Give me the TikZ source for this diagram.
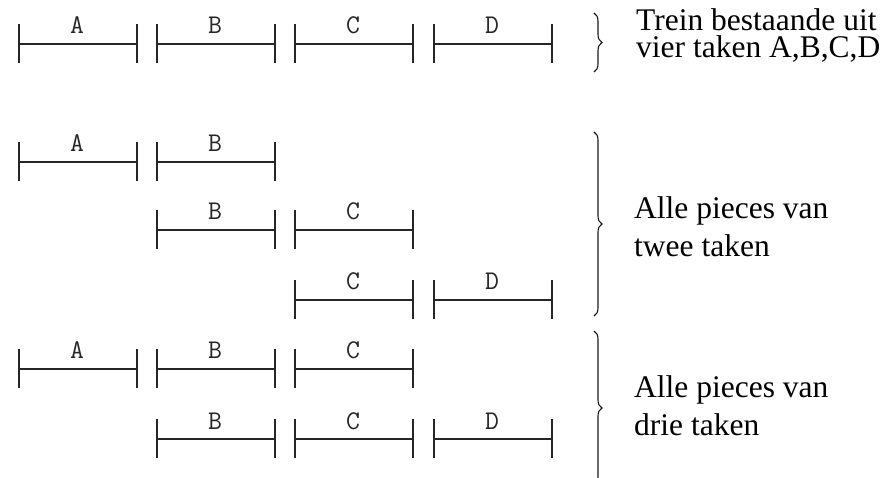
\documentclass[tikz,border=0pt]{standalone}
\usepackage{fontspec}
\usetikzlibrary{decorations.pathreplacing}
\newfontfamily\txfont{Liberation Serif}
\begin{document}
\begin{tikzpicture}[x=1pt,y=-1pt,
  seg/.style={line width=1.6pt, draw=black!85},
  lbl/.style={font=\ttfamily\fontsize{27}{27}\selectfont, anchor=base, inner sep=0pt, text=black!85},
  txt/.style={font=\txfont\fontsize{31.5}{31.5}\selectfont, anchor=base west, inner sep=0pt, text height=20pt, text depth=5pt},
  br/.style={decorate, decoration={brace, amplitude=8pt}, line width=1.1pt, draw=black!90}]
\fill[white] (0,0) rectangle (889,478);
\useasboundingbox (0,0) rectangle (889,478);
\def\xA{19}\def\xB{157}\def\xC{295}\def\xD{434}
\foreach \y/\l in {44/A,44/B,44/C,44/D,162/A,162/B,230/B,230/C,300/C,300/D,369/A,369/B,369/C,439/B,439/C,439/D}{
  \pgfmathsetmacro{\x}{\csname x\l\endcsname}
  \coordinate (s-\y-\l) at (\x,\y);
  \coordinate (e-\y-\l) at (\x+118,\y);
  \draw[seg] ([yshift=20pt]s-\y-\l) -- ([yshift=-19pt]s-\y-\l);
  \draw[seg] (s-\y-\l) -- (e-\y-\l);
  \draw[seg] ([yshift=20pt]e-\y-\l) -- ([yshift=-19pt]e-\y-\l);
  \node[lbl] (l-\y-\l) at (\x+58,\y-10) {\l};
}
\coordinate (b1t) at (594,13);  \coordinate (b1b) at (594,72);
\coordinate (b2t) at (594,132); \coordinate (b2b) at (594,316);
\coordinate (b3t) at (594,331); \coordinate (b3b) at (594,485);
\draw[br] (b1t) -- (b1b);
\draw[br] (b2t) -- (b2b);
\draw[br] (b3t) -- (b3b);
\node[font=\txfont\fontsize{31.5}{27}\selectfont, align=left, anchor=base west, inner sep=0pt] (t1) at (636,58) {Trein bestaande uit\\vier taken A,B,C,D};
\node[txt] (t2a) at (634,219) {Alle pieces van};
\node[txt] (t2b) at (634,257) {twee taken};
\node[txt] (t3a) at (634,397) {Alle pieces van};
\node[txt] (t3b) at (634,435) {drie taken};
\end{tikzpicture}
\end{document}
